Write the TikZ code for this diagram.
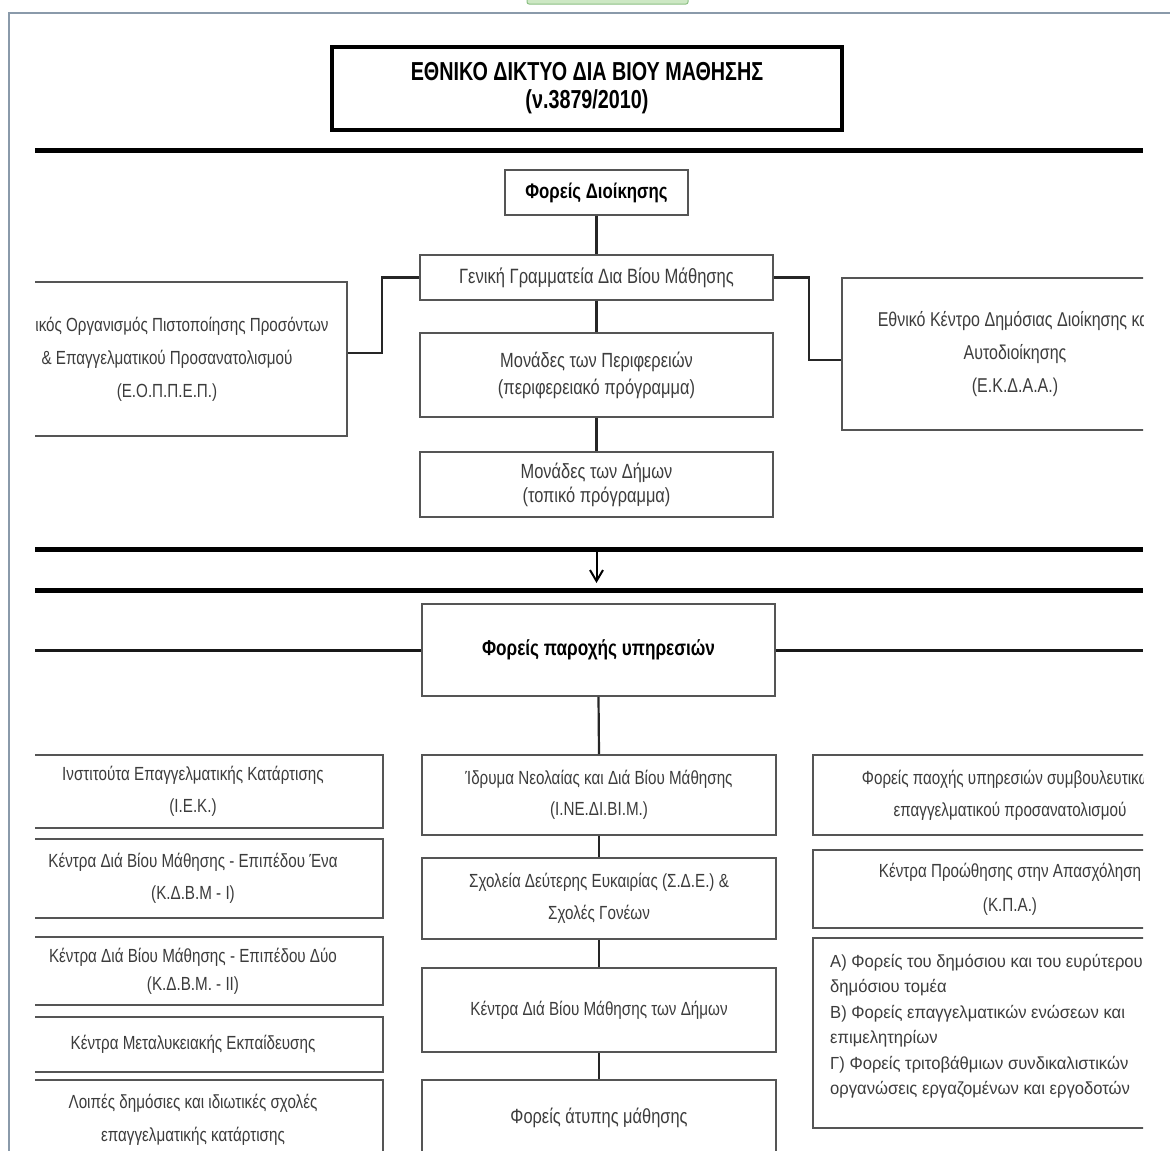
\documentclass[tikz,border=0pt]{standalone}
\usepackage{fontspec}
\setmainfont{Liberation Sans}
\newfontfamily\cond[FakeStretch=0.8]{Liberation Sans}
\newfontfamily\tcond[FakeStretch=0.76]{Liberation Sans}
\newfontfamily\cnine[FakeStretch=0.95]{Liberation Sans}
\usetikzlibrary{arrows.meta}
\definecolor{txt}{HTML}{3C3C3C}
\definecolor{bord}{HTML}{555555}
\definecolor{framec}{HTML}{8A9AAA}
\definecolor{tabfill}{HTML}{CDE8C4}
\definecolor{tabdraw}{HTML}{8CC084}
\begin{document}
\begin{tikzpicture}[x=1pt,y=-1pt,
  box/.style={draw=bord, line width=1.8pt, fill=white, inner sep=0pt, text=txt, align=center, font=\cond\fontsize{19}{32}\selectfont},
  hdr/.style={box, text=black, font=\cond\bfseries\fontsize{21}{24}\selectfont},
  conn/.style={draw=black!85, line width=2.2pt},
  hconn/.style={draw=black!90, line width=3pt},
  rulel/.style={draw=black, line width=5pt},
]
\useasboundingbox (0,0) rectangle (1170,1151);
% frame of the screenshot
\coordinate (fa) at (9,1151);
\coordinate (fb) at (9,13);
\coordinate (fc) at (1170,13);
\draw[framec, line width=2pt] (fa) -- (fb) -- (fc);
\draw[tabdraw, fill=tabfill, line width=1pt, rounded corners=2pt] (527,-3) rectangle (688,4);

\begin{scope}
\clip (35,14) rectangle (1143,1151);

\node[draw=black, line width=4pt, minimum width=510pt, minimum height=83pt, inner sep=0pt, align=center, font=\tcond\bfseries\fontsize{26}{28}\selectfont] (title) at (587,88) {ΕΘΝΙΚΟ ΔΙΚΤΥΟ ΔΙΑ ΒΙΟΥ ΜΑΘΗΣΗΣ\\(ν.3879/2010)};

\coordinate (r1a) at (35,150); \coordinate (r1b) at (1143,150);
\coordinate (r2a) at (35,549); \coordinate (r2b) at (1143,549);
\coordinate (r3a) at (35,590); \coordinate (r3b) at (1143,590);
\draw[rulel] (r1a) -- (r1b);
\draw[rulel] (r2a) -- (r2b);
\draw[rulel] (r3a) -- (r3b);

% administration
\node[hdr, minimum width=183pt, minimum height=45pt] (fdioik) at (596.5,192.5) {Φορείς Διοίκησης};
\node[box, minimum width=353pt, minimum height=45pt, font=\cond\fontsize{20.7}{27}\selectfont] (gen) at (596.5,277.5) {Γενική Γραμματεία Δια Βίου Μάθησης};
\node[box, minimum width=353pt, minimum height=84pt, font=\cond\fontsize{20.5}{27}\selectfont] (per) at (596.5,375) {Μονάδες των Περιφερειών\\(περιφερειακό πρόγραμμα)};
\node[box, minimum width=353pt, minimum height=65pt, font=\cond\fontsize{20.5}{24}\selectfont] (dim) at (596.5,484.5) {Μονάδες των Δήμων\\(τοπικό πρόγραμμα)};
\node[box, minimum width=360pt, minimum height=154pt, font=\cond\fontsize{19}{33}\selectfont] (eoppep) at (167,359) {\hspace*{30pt}ικός Οργανισμός Πιστοποίησης Προσόντων\\\& Επαγγελματικού Προσανατολισμού\\(Ε.Ο.Π.Π.Ε.Π.)};
\node[box, minimum width=346pt, minimum height=152pt, font=\cond\fontsize{20}{33}\selectfont] (ekdaa) at (1015,354) {Εθνικό Κέντρο Δημόσιας Διοίκησης και\\Αυτοδιοίκησης\\(Ε.Κ.Δ.Α.Α.)};

\draw[conn] (fdioik.south) -- (gen.north);
\draw[conn] (gen.south) -- (per.north);
\draw[conn] (per.south) -- (dim.north);
\draw[conn] (gen.west) -- ++(-37,0) |- ([yshift=6pt]eoppep.east);
\draw[conn] (gen.east) -- ++(35,0) |- ([yshift=-6pt]ekdaa.west);

% arrow between the rules
\coordinate (arrS) at (596.5,549);
\coordinate (arrE) at (596.5,583);
\draw[line width=2pt, -{Straight Barb[length=11pt,width=13pt,line width=2pt]}] (arrS) -- (arrE);

% service providers
\node[hdr, minimum width=353pt, minimum height=92pt, font=\cond\bfseries\fontsize{21.5}{24}\selectfont] (fpy) at (598.5,650) {Φορείς παροχής υπηρεσιών};
\coordinate (hl) at (35,650); \coordinate (hr) at (1143,650);
\draw[hconn] (hl) -- (fpy.west);
\draw[hconn] (fpy.east) -- (hr);

% middle column
\node[box, minimum width=354pt, minimum height=80pt, font=\cond\fontsize{19}{31}\selectfont] (idr) at (599,795) {Ίδρυμα Νεολαίας και Διά Βίου Μάθησης\\(Ι.ΝΕ.ΔΙ.ΒΙ.Μ.)};
\node[box, minimum width=354pt, minimum height=81pt] (sde) at (599,898.5) {Σχολεία Δεύτερης Ευκαιρίας (Σ.Δ.Ε.) \&\\Σχολές Γονέων};
\node[box, minimum width=354pt, minimum height=84pt] (kdbmd) at (599,1010) {Κέντρα Διά Βίου Μάθησης των Δήμων};
\node[box, minimum width=354pt, minimum height=76pt, font=\cond\fontsize{20.5}{27}\selectfont] (atyp) at (599,1118) {Φορείς άτυπης μάθησης};
\draw[conn] (fpy.south) -- (idr.north);
\draw[conn] (idr.south) -- (sde.north);
\draw[conn] (sde.south) -- (kdbmd.north);
\draw[conn] (kdbmd.south) -- (atyp.north);

% left column
\node[box, minimum width=380pt, minimum height=73pt] (iek) at (193,791.5) {Ινστιτούτα Επαγγελματικής Κατάρτισης\\(Ι.Ε.Κ.)};
\node[box, minimum width=380pt, minimum height=79pt] (kdbm1) at (193,878.5) {Κέντρα Διά Βίου Μάθησης - Επιπέδου Ένα\\(Κ.Δ.Β.Μ - Ι)};
\node[box, minimum width=380pt, minimum height=68pt, font=\cond\fontsize{19}{28}\selectfont] (kdbm2) at (193,971) {Κέντρα Διά Βίου Μάθησης - Επιπέδου Δύο\\(Κ.Δ.Β.Μ. - ΙΙ)};
\node[box, minimum width=380pt, minimum height=55pt] (metal) at (193,1044.5) {Κέντρα Μεταλυκειακής Εκπαίδευσης};
\node[box, minimum width=380pt, minimum height=80pt, font=\cond\fontsize{19}{33}\selectfont] (loip) at (193,1120) {Λοιπές δημόσιες και ιδιωτικές σχολές\\επαγγελματικής κατάρτισης};

% right column
\node[box, minimum width=394pt, minimum height=80pt] (fpsy) at (1010,795) {Φορείς παοχής υπηρεσιών συμβουλευτικών\\επαγγελματικού προσανατολισμού};
\node[box, minimum width=394pt, minimum height=78pt, font=\cond\fontsize{19}{34}\selectfont] (kpa) at (1010,889) {Κέντρα Προώθησης στην Απασχόληση\\(Κ.Π.Α.)};
\node[box, minimum width=394pt, minimum height=190pt] (abg) at (1010,1033) {};
\node[anchor=north west, inner sep=0pt, text=txt, align=left, font=\cnine\fontsize{17.5}{25.5}\selectfont] (abgt) at (830,954) {Α) Φορείς του δημόσιου και  του ευρύτερου\\δημόσιου τομέα\\Β) Φορείς επαγγελματικών ενώσεων και\\επιμελητηρίων\\Γ) Φορείς τριτοβάθμιων συνδικαλιστικών\\οργανώσεις εργαζομένων και εργοδοτών};
\end{scope}
\end{tikzpicture}
\end{document}
